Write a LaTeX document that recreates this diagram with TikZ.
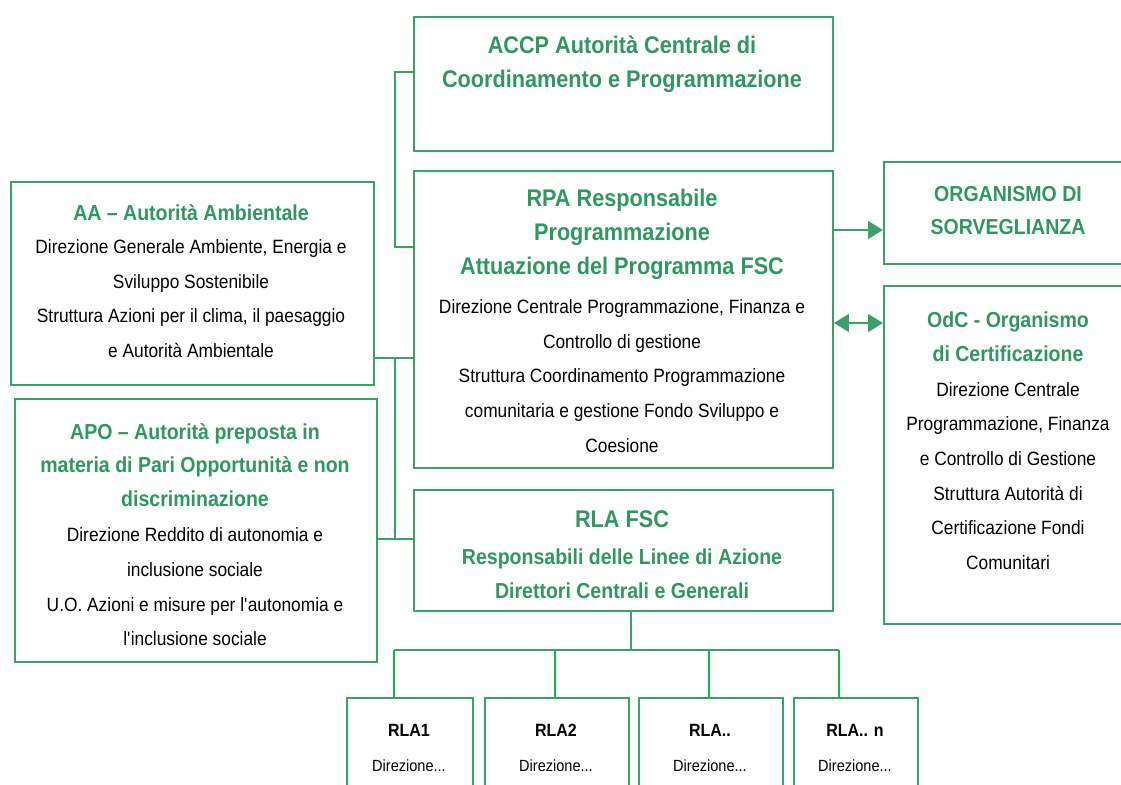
\documentclass[tikz,border=0pt]{standalone}
\usepackage{fontspec}
\setmainfont[FakeStretch=0.9]{Liberation Sans}
\usetikzlibrary{arrows.meta}
\definecolor{boxgreen}{RGB}{60,160,105}
\definecolor{titlegreen}{RGB}{46,152,96}
\definecolor{dropgreen}{RGB}{20,182,80}

\begin{document}
\begin{tikzpicture}[x=0.02cm, y=-0.02cm,
    >={Triangle[length=8.5pt, width=10pt]},
    box/.style={draw=boxgreen, line width=1.1pt, inner sep=0pt, anchor=north west},
    head/.style={text=titlegreen, align=center, font=\bfseries\fontsize{13.7}{19.3}\selectfont},
    subhead/.style={text=titlegreen, align=center, font=\bfseries\fontsize{12.35}{19.1}\selectfont},
    body/.style={align=center, font=\fontsize{10.96}{19.7}\selectfont},
    link/.style={boxgreen, line width=1.5pt},
    drop/.style={dropgreen, line width=1.5pt}]
        \path[use as bounding box, clip] (0,0) rectangle (1121,784);

        % centre column
        \node[box, minimum width=8.38cm, minimum height=2.68cm] (accp) at (413,16) {};
        \node[head] (accptext) at (622,64) {ACCP Autorità Centrale di\\Coordinamento e Programmazione};

        \node[box, minimum width=8.38cm, minimum height=5.94cm] (rpa) at (413,170) {};
        \node[head] (rpatext) at (622,234) {RPA Responsabile\\Programmazione\\Attuazione del Programma FSC};
        \node[body] (rpabody) at (622,376) {Direzione Centrale Programmazione, Finanza e\\Controllo di gestione\\Struttura Coordinamento Programmazione\\comunitaria e gestione Fondo Sviluppo e\\Coesione};

        \node[box, minimum width=8.38cm, minimum height=2.42cm] (rla) at (413,489) {};
        \node[head] (rlatext) at (622,519) {RLA FSC};
        \node[subhead] (rlasub) at (622,573.5) {Responsabili delle Linee di Azione\\Direttori Centrali e Generali};

        % left column
        \node[box, minimum width=7.26cm, minimum height=4.06cm] (aa) at (10,181) {};
        \node[subhead] (aatext) at (191,213) {AA – Autorità Ambientale};
        \node[body] (aabody) at (191,298.5) {Direzione Generale Ambiente, Energia e\\Sviluppo Sostenibile\\Struttura Azioni per il clima, il paesaggio\\e Autorità Ambientale};

        \node[box, minimum width=7.24cm, minimum height=5.26cm] (apo) at (14,398) {};
        \node[subhead] (apotext) at (195,465) {APO – Autorità preposta in\\materia di Pari Opportunità e non\\discriminazione};
        \node[body] (apobody) at (195,587) {Direzione Reddito di autonomia e\\inclusione sociale\\U.O. Azioni e misure per l\textquotesingle autonomia e\\l\textquotesingle inclusione sociale};

        % right column
        \node[box, minimum width=5.04cm, minimum height=2.04cm] (org) at (883,161) {};
        \node[subhead] (orgtext) at (1008,210.5) {ORGANISMO DI\\SORVEGLIANZA};

        \node[box, minimum width=5.04cm, minimum height=6.76cm] (odc) at (883,285) {};
        \node[subhead] (odctext) at (1008,336.5) {OdC - Organismo\\di Certificazione};
        \node[body] (odcbody) at (1008,476) {Direzione Centrale\\Programmazione, Finanza\\e Controllo di Gestione\\Struttura Autorità di\\Certificazione Fondi\\Comunitari};

        % RLA boxes
        \foreach \n/\x/\w/\c/\t in {rlaone/346/2.52/409/RLA1, rlatwo/484/2.88/556/RLA2, rladots/638/2.88/710/RLA.., rlan/793/2.48/855/RLA.. n} {
            \node[box, minimum width=\w cm, minimum height=2.2cm] (\n) at (\x,697) {};
            \node[font=\bfseries\fontsize{10.1}{12}\selectfont] (\n title) at (\c,730) {\t};
            \node[font=\fontsize{9.2}{11}\selectfont] (\n body) at (\c,766) {Direzione...};
        }

        % connectors
        \coordinate (ltop) at (395,72);
        \coordinate (lmid) at (395,358);
        \coordinate (llow) at (395,539);
        \coordinate (bus) at (631,650);
        \draw[link] (accp.west |- ltop) -- (ltop) |- (rpa.west |- 0,247);
        \draw[link] (aa.east |- lmid) -- (rpa.west |- lmid);
        \draw[link] (apo.east |- llow) -- (rla.west |- llow);
        \draw[link] (lmid) -- (llow);

        \draw[link, ->] (rpa.east |- 0,230) -- (org.west |- 0,230);
        \draw[link, <->] (rpa.east |- 0,323) -- (odc.west |- 0,323);

        \foreach \n/\d in {rlaone/394, rlatwo/555, rladots/709, rlan/839}
            \draw[drop] (\n.north -| \d,0) -- ++(0,-47);
        \draw[link] (rla.south -| bus) -- (bus);
        \draw[link] (bus -| 394,0) -- (bus -| 839,0);
    \end{tikzpicture}
\end{document}
